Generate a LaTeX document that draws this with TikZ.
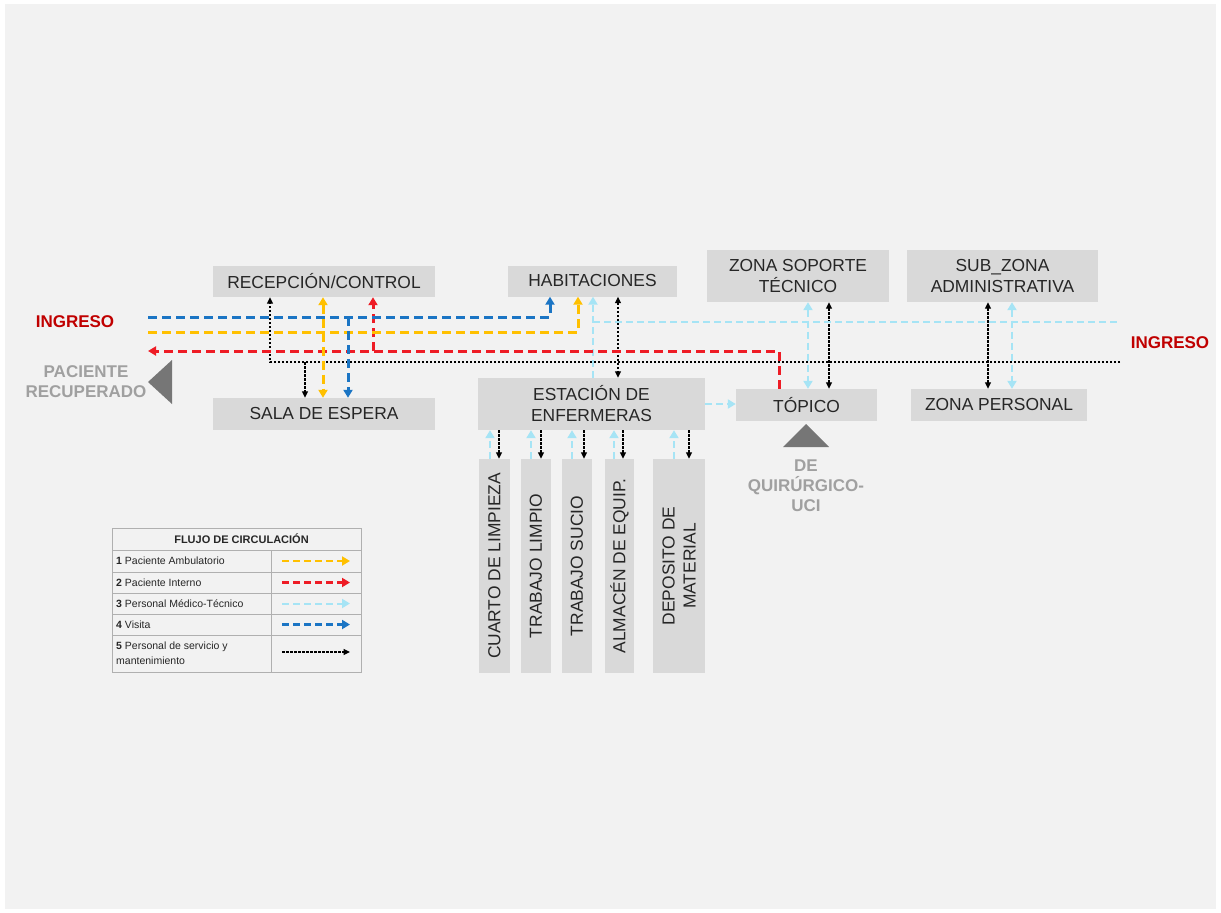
\documentclass[tikz,border=0pt]{standalone}
\usepackage{fontspec}
\setmainfont{Liberation Sans}
\usetikzlibrary{arrows.meta}
\definecolor{bg}{HTML}{F2F2F2}
\definecolor{boxc}{HTML}{D9D9D9}
\definecolor{txt}{HTML}{262626}
\definecolor{amb}{HTML}{FFC000}
\definecolor{intr}{HTML}{EE1C25}
\definecolor{med}{HTML}{A6E4F5}
\definecolor{vis}{HTML}{1B75C4}
\definecolor{ingr}{HTML}{C00000}
\definecolor{grayt}{HTML}{A0A0A0}
\definecolor{tri}{HTML}{767676}
\definecolor{tabl}{HTML}{B0B0B0}
\begin{document}
\begin{tikzpicture}[x=1pt,y=-1pt,
  box/.style={fill=boxc, text=txt, inner sep=0pt, align=center, font=\fontsize{17.4}{21}\selectfont},
  vbox/.style={box, rotate=90, minimum width=214pt, minimum height=#1},
  lbl/.style={font=\bfseries\fontsize{17}{20.5}\selectfont, align=center, inner sep=0pt},
  ltxt/.style={font=\fontsize{10.5}{15}\selectfont, text=txt, anchor=west, inner sep=0pt, align=left},
  fAmb/.style={draw=amb, line width=3pt, dash pattern=on 9pt off 5pt},
  fInt/.style={draw=intr, line width=3pt, dash pattern=on 9pt off 5pt},
  fMed/.style={draw=med, line width=2.5pt, dash pattern=on 7pt off 4pt},
  fVis/.style={draw=vis, line width=3pt, dash pattern=on 9pt off 5pt},
  fSer/.style={draw=black, line width=1.1pt, dash pattern=on 2.5pt off 1.5pt},
  endC/.style={-{Triangle[length=8pt,width=9pt]}},
  bothC/.style={{Triangle[length=8pt,width=9pt]}-{Triangle[length=8pt,width=9pt]}},
  endK/.style={-{Triangle[length=6.5pt,width=6pt]}},
  bothK/.style={{Triangle[length=6.5pt,width=6pt]}-{Triangle[length=6.5pt,width=6pt]}},
]
% page and panel
\useasboundingbox (0,0) rectangle (1221,913);
\fill[white] (0,0) rectangle (1221,913);
\fill[bg] (5,4) rectangle (1216,909);

% main boxes
\node[box, minimum width=222pt, minimum height=31pt] (recep) at (324,281.5) {RECEPCIÓN/CONTROL};
\node[box, minimum width=222pt, minimum height=32pt] (sala) at (324,414) {SALA DE ESPERA};
\node[box, minimum width=169pt, minimum height=31pt] (habit) at (592.5,281) {HABITACIONES};
\node[box, minimum width=227pt, minimum height=52pt] (estac) at (591.5,404) {ESTACIÓN DE\\ENFERMERAS};
\node[box, minimum width=182pt, minimum height=52pt] (soporte) at (798,276) {ZONA SOPORTE\\TÉCNICO};
\node[box, minimum width=191pt, minimum height=52pt] (subzona) at (1002.5,276) {SUB\_ZONA\\ADMINISTRATIVA};
\node[box, minimum width=141pt, minimum height=32pt] (topico) at (806.5,405) {TÓPICO};
\node[box, minimum width=176pt, minimum height=32pt] (zpers) at (999,405) {ZONA PERSONAL};

% vertical boxes (rotated: .east is the top on the page)
\node[vbox=31pt] (cuarto) at (494.5,566) {CUARTO DE LIMPIEZA};
\node[vbox=30pt] (tlimpio) at (536,566) {TRABAJO LIMPIO};
\node[vbox=30pt] (tsucio) at (577,566) {TRABAJO SUCIO};
\node[vbox=29pt] (almacen) at (619.5,566) {ALMACÉN DE EQUIP.};
\node[vbox=52pt] (deposito) at (679,566) {DEPOSITO DE\\MATERIAL};

% labels
\node[lbl, text=ingr] (ingL) at (75,322) {INGRESO};
\node[lbl, text=ingr] (ingR) at (1170,343) {INGRESO};
\node[lbl, text=grayt] (recup) at (86,381.5) {PACIENTE\\RECUPERADO};
\node[lbl, text=grayt, font=\bfseries\fontsize{17}{20}\selectfont] (quir) at (806,486) {DE\\QUIRÚRGICO-\\UCI};
\fill[tri] (148,382) -- (172,360) -- (172,404) -- cycle;
\fill[tri] (806,424) -- (783,447) -- (829,447) -- cycle;

% helper coordinates
\coordinate (bS) at (148,317);
\coordinate (yS) at (148,332);
\coordinate (rE) at (148,351);
\coordinate (kE) at (1120,362);
\coordinate (cE) at (1120,322);
\coordinate (xb1) at (550,0);
\coordinate (xb2) at (348,0);
\coordinate (xy1) at (578,0);
\coordinate (xy2) at (323,0);
\coordinate (xr1) at (779,0);
\coordinate (xr2) at (373,0);
\coordinate (xk1) at (270,0);
\coordinate (xk2) at (305,0);
\coordinate (xk3) at (618,0);
\coordinate (xk4) at (829,0);
\coordinate (xk5) at (988,0);
\coordinate (xc1) at (593,0);
\coordinate (xc4) at (808,0);
\coordinate (xc5) at (1012,0);

% service (black dotted)
\draw[fSer, endK] (kE) -- (xk1 |- kE) -- (recep.south -| xk1);
\draw[fSer, endK] (xk2 |- kE) -- (sala.north -| xk2);
\draw[fSer, bothK] (habit.south -| xk3) -- (estac.north -| xk3);
\draw[fSer, bothK] (soporte.south -| xk4) -- (topico.north -| xk4);
\draw[fSer, bothK] (subzona.south -| xk5) -- (zpers.north -| xk5);

% medical staff (light cyan)
\draw[fMed] (xc1 |- cE) -- (cE);
\draw[fMed, endC] (estac.north -| xc1) -- (habit.south -| xc1);
\draw[fMed, bothC] (soporte.south -| xc4) -- (topico.north -| xc4);
\draw[fMed, bothC] (subzona.south -| xc5) -- (zpers.north -| xc5);
\draw[fMed, endC] (estac.east) -- (estac.east -| topico.west);

% internal patient (red)
\draw[fInt, endC] (topico.north -| xr1) |- (rE);
\draw[fInt, endC] (xr2 |- rE) -- (recep.south -| xr2);

% ambulatory (yellow)
\draw[fAmb, endC] (yS) -| (habit.south -| xy1);
\draw[fAmb, bothC] (recep.south -| xy2) -- (sala.north -| xy2);

% visit (blue)
\draw[fVis, endC] (bS) -| (habit.south -| xb1);
\draw[fVis, endC] (xb2 |- bS) -- (sala.north -| xb2);

% station <-> service rooms
\foreach \n/\c/\k in {cuarto/490/499, tlimpio/531/541, tsucio/572/584, almacen/614/623, deposito/674/689}{
  \coordinate (cx) at (\c,0);
  \coordinate (kx) at (\k,0);
  \draw[fMed, line width=2pt, endC] (\n.east -| cx) -- (estac.south -| cx);
  \draw[fSer, endK] (estac.south -| kx) -- (\n.east -| kx);
}

% legend
\draw[tabl, line width=0.8pt] (112,528) rectangle (361,672);
\foreach \yy in {550,572,593,614,635}{\draw[tabl, line width=0.8pt] (112,\yy) -- (361,\yy);}
\draw[tabl, line width=0.8pt] (271,550) -- (271,672);
\node[font=\bfseries\fontsize{11}{13}\selectfont, text=txt, inner sep=0pt] (lhead) at (241.5,539) {FLUJO DE CIRCULACIÓN};
\node[ltxt] (l1) at (116,561) {\textbf{1} Paciente Ambulatorio};
\node[ltxt] (l2) at (116,582.5) {\textbf{2} Paciente Interno};
\node[ltxt] (l3) at (116,603.5) {\textbf{3} Personal Médico-Técnico};
\node[ltxt] (l4) at (116,624.5) {\textbf{4} Visita};
\node[ltxt] (l5) at (116,653) {\textbf{5} Personal de servicio y\\mantenimiento};
\coordinate (a1) at (282,561); \coordinate (b1) at (350,561);
\coordinate (a2) at (282,582.5); \coordinate (b2) at (350,582.5);
\coordinate (a3) at (282,603.5); \coordinate (b3) at (350,603.5);
\coordinate (a4) at (282,624.5); \coordinate (b4) at (350,624.5);
\coordinate (a5) at (282,652); \coordinate (b5) at (350,652);
\draw[fAmb, line width=2.5pt, dash pattern=on 7pt off 4pt, endC] (a1) -- (b1);
\draw[fInt, line width=2.5pt, dash pattern=on 7pt off 4pt, endC] (a2) -- (b2);
\draw[fMed, line width=2pt, dash pattern=on 7pt off 4pt, endC] (a3) -- (b3);
\draw[fVis, line width=2.5pt, dash pattern=on 7pt off 4pt, endC] (a4) -- (b4);
\draw[fSer, endK] (a5) -- (b5);
\end{tikzpicture}
\end{document}
